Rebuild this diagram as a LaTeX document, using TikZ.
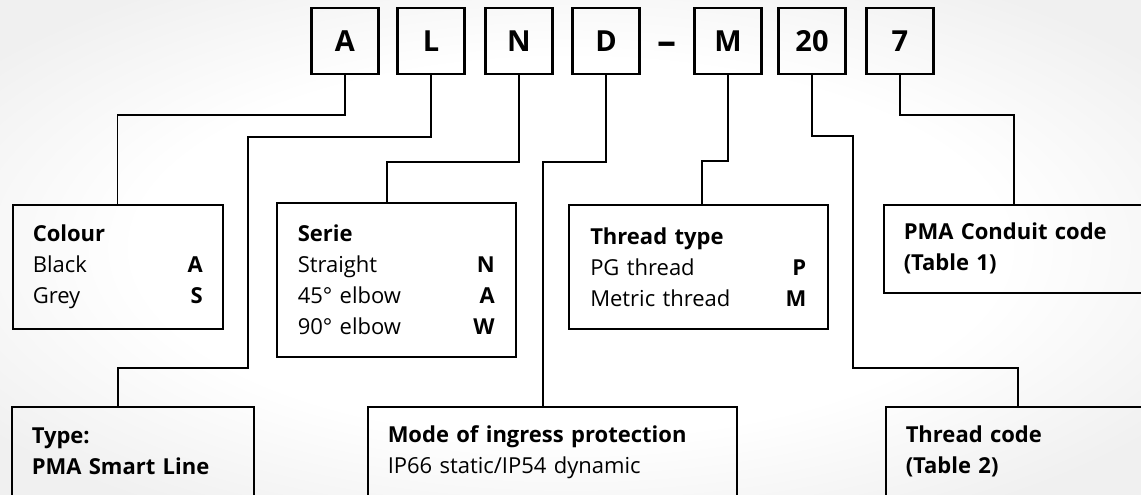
\documentclass[tikz,border=0pt]{standalone}
\usepackage{fontspec}
\setmainfont{Open Sans}[RawFeature=-liga]
\usetikzlibrary{calc,positioning}

\pgfdeclareradialshading{vignette}{\pgfpoint{0bp}{0bp}}{color(0bp)=(white); color(19bp)=(white); color(32bp)=(black!6); color(50bp)=(black!6)}

\begin{document}
\begin{tikzpicture}[x=1pt,y=-1pt,
    keybox/.style={draw,line width=2.2pt,minimum width=67pt,minimum height=66pt,inner sep=0pt,font=\fontsize{29}{29}\selectfont\bfseries},
    infobox/.style={draw,line width=1.5pt,inner xsep=20pt,inner ysep=0pt,align=left,anchor=north west,font=\fontsize{22}{31}\selectfont},
    link/.style={line width=1.3pt}]
    \useasboundingbox (0,0) rectangle (1141,495);
    \shade[shading=vignette] (0,0) rectangle (1141,495);
    % code letters
    \node[keybox](kA)at(345,41){A};
    \node[keybox](kL)at(431,41){L};
    \node[keybox](kN)at(519,41){N};
    \node[keybox](kD)at(606,41){D};
    \node[font=\fontsize{38}{38}\selectfont\bfseries](dash)at(667,48){–};
    \node[keybox](kM)at(728,41){M};
    \node[keybox](k20)at(812,41){20};
    \node[keybox](k7)at(900,41){7};
    % description boxes
    \node[infobox,text width=170pt,minimum height=124pt](colour)at(12,204)
        {\textbf{Colour}\\Black\hfill\textbf{A}\\Grey\hfill\textbf{S}};
    \node[infobox,text width=197pt,minimum height=154pt,inner xsep=21pt](serie)at(276,202)
        {\textbf{Serie}\\Straight\hfill\textbf{N}\\45° elbow\hfill\textbf{A}\\90° elbow\hfill\textbf{W}};
    \node[infobox,text width=216pt,minimum height=124pt,inner xsep=21.5pt](thread)at(568,204)
        {\textbf{Thread type}\\PG thread\hfill\textbf{P}\\Metric thread\hfill\textbf{M}};
    \node[infobox,text width=222pt,minimum height=88pt](pma)at(883,204)
        {\textbf{PMA Conduit code}\\\textbf{(Table 1)}};
    \node[infobox,text width=202pt,minimum height=90pt](type)at(11,406)
        {\textbf{Type:}\\\textbf{PMA Smart Line}};
    \node[infobox,text width=329pt,minimum height=90pt](mode)at(367,406)
        {\textbf{Mode of ingress protection}\\IP66 static/IP54 dynamic};
    \node[infobox,text width=225pt,minimum height=90pt](code)at(885,406)
        {\textbf{Thread code}\\\textbf{(Table 2)}};
    % entry points on the boxes
    \coordinate(inType)at($(type.north west)+(107,0)$);
    \coordinate(inSerie)at($(serie.north west)+(111,0)$);
    \coordinate(inMode)at($(mode.north west)+(176,0)$);
    \coordinate(inThread)at($(thread.north west)+(134,0)$);
    \coordinate(inPMA)at($(pma.north west)+(131,0)$);
    \coordinate(inCode)at($(code.north west)+(133,0)$);
    % connectors
    \draw[link](kA.south)--++(0,40)-|(colour.north);
    \draw[link](kL.south)|-(248,137)--(248,368)-|(inType);
    \draw[link](kN.south)--++(0,87)-|(inSerie);
    \draw[link](kD.south)--++(0,87)-|(inMode);
    \draw[link](kM.south)--++(0,86)-|(inThread);
    \draw[link](k20.south)|-(853,136)--(853,368)-|(inCode);
    \draw[link](k7.south)--++(0,40)-|(inPMA);
\end{tikzpicture}
\end{document}
